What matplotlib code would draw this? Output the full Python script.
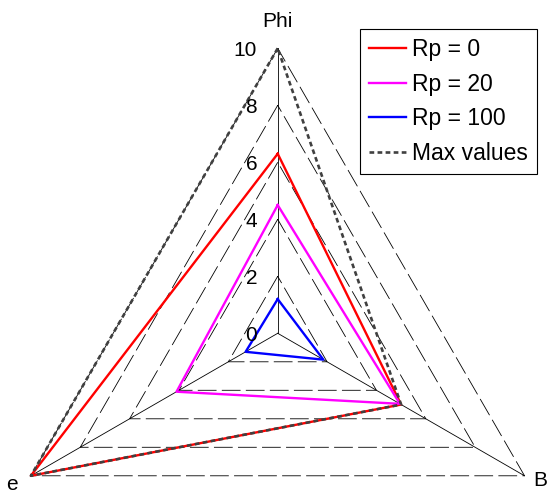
import numpy as np
import matplotlib.pyplot as plt

plt.rcParams['font.family'] = ['Liberation Sans', 'DejaVu Sans']
plt.rcParams['lines.scale_dashes'] = False

# spider axes: Phi on top, e bottom-left, B bottom-right
axis_names = ['Phi', 'e', 'B']
axis_angles = np.deg2rad([90, 210, 330])
ticks = [0, 2, 4, 6, 8, 10]

series_labels = ['Rp = 0', 'Rp = 20', 'Rp = 100']
series_colors = ['#ff0000', '#ff00ff', '#0000ff']
phi_vals = [6.3, 4.5, 1.2]
e_vals = [10.0, 4.1, 1.3]
b_vals = [5.0, 4.95, 1.85]
max_vals = [10.0, 10.0, 5.0]

# label offsets (pixels) from the end of each spoke
name_offsets = [(0, 27), (-19, -9), (16, -5)]


def closed_xy(r):
    r = np.append(np.asarray(r, dtype=float), r[0])
    ang = np.append(axis_angles, axis_angles[0])
    return r * np.cos(ang), r * np.sin(ang)


fig = plt.figure(figsize=(5.49, 4.93), dpi=100)
ax = fig.add_axes([0, 0, 1, 1])
ax.set_xlim(-9.744, 9.519)
ax.set_ylim(-5.604, 11.695)
ax.axis('off')

# dashed grid triangles and solid spokes
for t in ticks[1:]:
    gx, gy = closed_xy([t] * 3)
    ax.plot(gx, gy, color='k', lw=0.6, dashes=(13.5, 3.8))
for a in axis_angles:
    ax.plot([0, ticks[-1] * np.cos(a)], [0, ticks[-1] * np.sin(a)],
            color='k', lw=0.6)

# tick labels along the Phi axis
for t in ticks:
    ax.text(-0.72, t - 0.07, str(t), ha='right', va='center', fontsize=15)

for name, a, off in zip(axis_names, axis_angles, name_offsets):
    ax.annotate(name, (ticks[-1] * np.cos(a), ticks[-1] * np.sin(a)),
                xytext=off, textcoords='offset pixels',
                ha='center', va='center', fontsize=15)

for i, lab in enumerate(series_labels):
    x, y = closed_xy([phi_vals[i], e_vals[i], b_vals[i]])
    ax.plot(x, y, color=series_colors[i], lw=1.7, label=lab)

mx, my = closed_xy(max_vals)
ax.plot(mx, my, color='#404040', lw=1.9, dashes=(3.4, 2.4), label='Max values')

leg = ax.legend(loc='upper right', bbox_to_anchor=(537 / 549, 1 - 29 / 493),
                bbox_transform=fig.transFigure, borderaxespad=0,
                fontsize=16.5, fancybox=False, framealpha=1,
                edgecolor='k', handlelength=1.6, handletextpad=0.27,
                labelspacing=0.5, borderpad=0.4)
leg.get_frame().set_linewidth(0.8)

fig.savefig('out.png', dpi=100)
